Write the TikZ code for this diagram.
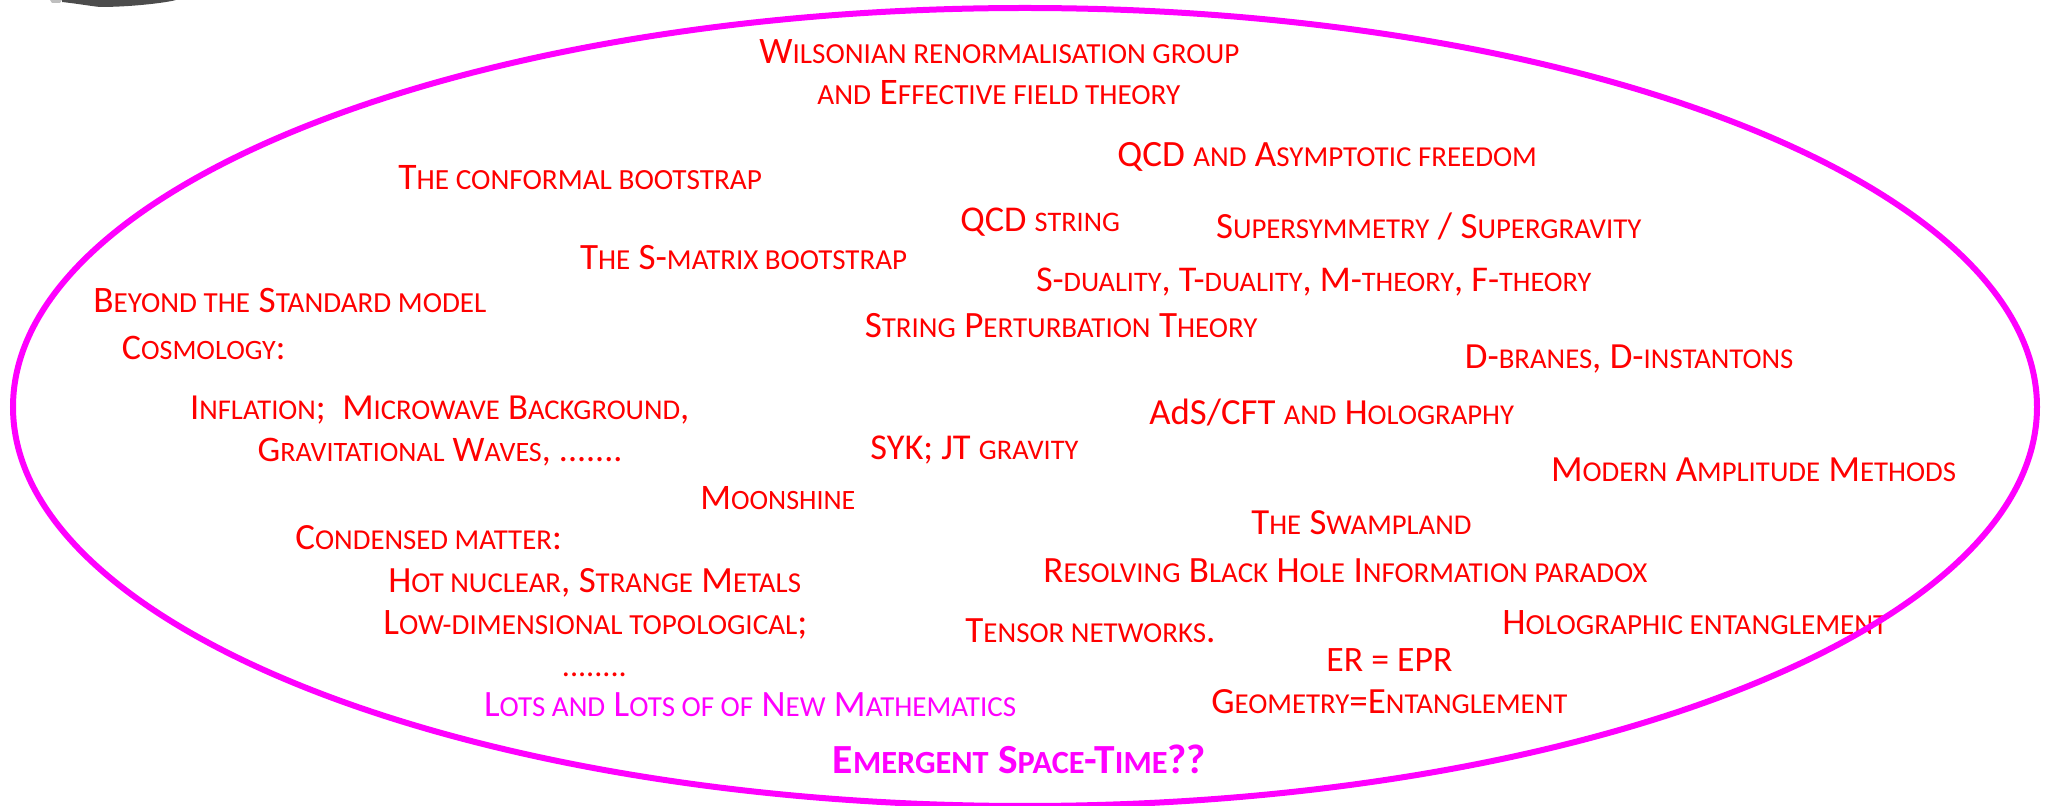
\documentclass[tikz,border=0pt]{standalone}
\usepackage{fontspec}
\setmainfont{Carlito}
\usepackage{graphicx}
\definecolor{mag}{RGB}{255,0,255}
\definecolor{rd}{RGB}{255,0,0}
\newcommand\sm[1]{\scalebox{0.78}{\MakeUppercase{#1}}}
\newcommand\fit[2]{\resizebox{#1pt}{!}{#2}}
\tikzset{
  lbl/.style={anchor=base west, inner sep=0pt, text=rd, font=\fontsize{18}{20}\selectfont},
  mlbl/.style={lbl, text=mag},
  ring/.style={draw=mag, line width=3pt}
}
\begin{document}
\begin{tikzpicture}[x=0.5pt,y=-0.5pt]
\useasboundingbox (0,0) rectangle (2047,806);
% grey fragment of a picture at the top left
\fill[black!70] (62,0) -- (176,0) .. controls (165,3) and (130,7) .. (100,7) .. controls (90,6) and (80,4) .. (62,2) -- cycle;
\fill[black!25] (50,0) -- (62,0) -- (60,3) -- (52,3) -- cycle;

\node[lbl] (w1)   at (759,63.3)   {\fit{240}{W\sm{ilsonian renormalisation group}}};
\node[lbl] (w2)   at (817,105)    {\fit{181.5}{\sm{and} E\sm{ffective field theory}}};
\node[lbl] (qcd)  at (1117,166.7) {\fit{209.8}{QCD \sm{and} A\sm{symptotic freedom}}};
\node[lbl] (cb)   at (398,190)    {\fit{181.8}{T\sm{he conformal bootstrap}}};
\node[lbl] (qs)   at (960,231.7)  {\fit{79.8}{QCD \sm{string}}};
\node[lbl] (susy) at (1215.6,238.3) {\fit{212.7}{S\sm{upersymmetry} / S\sm{upergravity}}};
\node[lbl] (smx)  at (579.6,270)  {\fit{163.5}{T\sm{he} S-\sm{matrix bootstrap}}};
\node[lbl] (dual) at (1035.7,291.7) {\fit{277.6}{S-\sm{duality}, T-\sm{duality}, M-\sm{theory}, F-\sm{theory}}};
\node[lbl] (bsm)  at (93,312.7)   {\fit{196.5}{B\sm{eyond the} S\sm{tandard model}}};
\node[lbl] (spt)  at (864.4,337.7) {\fit{196.3}{S\sm{tring} P\sm{erturbation} T\sm{heory}}};
\node[lbl] (cos)  at (121.5,360)  {\fit{81.75}{C\sm{osmology}:}};
\node[lbl] (db)   at (1464.5,368.3) {\fit{164.25}{D-\sm{branes}, D-\sm{instantons}}};
\node[lbl] (inf)  at (189.7,420)  {\fit{249.6}{I\sm{nflation};\ \ M\sm{icrowave} B\sm{ackground},}};
\node[lbl] (ads)  at (1149,425)   {\fit{182.3}{AdS/CFT \sm{and} H\sm{olography}}};
\node[lbl] (gw)   at (257.3,461.7) {\fit{182.4}{G\sm{ravitational} W\sm{aves}, .......}};
\node[lbl] (syk)  at (870,460)    {\fit{104}{SYK; JT \sm{gravity}}};
\node[lbl] (mam)  at (1550.6,481.7) {\fit{202.5}{M\sm{odern} A\sm{mplitude} M\sm{ethods}}};
\node[lbl] (moon) at (700,510)    {\fit{77.5}{M\sm{oonshine}}};
\node[lbl] (cm)   at (295,550)    {\fit{133.25}{C\sm{ondensed matter}:}};
\node[lbl] (swp)  at (1251,535)   {\fit{110}{T\sm{he} S\sm{wampland}}};
\node[lbl] (hot)  at (388,592.7)  {\fit{206.3}{H\sm{ot nuclear}, S\sm{trange} M\sm{etals}}};
\node[lbl] (bh)   at (1043,582.5) {\fit{302}{R\sm{esolving} B\sm{lack} H\sm{ole} I\sm{nformation paradox}}};
\node[lbl] (low)  at (383,635)    {\fit{212}{L\sm{ow-dimensional topological};}};
\node[lbl] (tn)   at (965,643)    {\fit{125}{T\sm{ensor networks}.}};
\node[lbl] (he)   at (1502,635)   {\fit{192.5}{H\sm{olographic entanglement}}};
\node[lbl] (er)   at (1326,672)   {\fit{63}{ER = EPR}};
\node[lbl] (dots) at (561.5,677)  {\fit{32.5}{........}};
\node[mlbl] (lots) at (483.7,716.7) {\fit{266}{L\sm{ots and} L\sm{ots of of} N\sm{ew} M\sm{athematics}}};
\node[lbl] (geo)  at (1211,714)   {\fit{178}{G\sm{eometry}=E\sm{ntanglement}}};
\node[mlbl, font=\fontsize{18}{20}\selectfont\bfseries] (emg) at (832.5,773.3) {\fit{186.5}{E\sm{mergent} S\sm{pace}-T\sm{ime}??}};

\draw[ring] (1025,407) ellipse [x radius=1012, y radius=399];
\end{tikzpicture}
\end{document}
